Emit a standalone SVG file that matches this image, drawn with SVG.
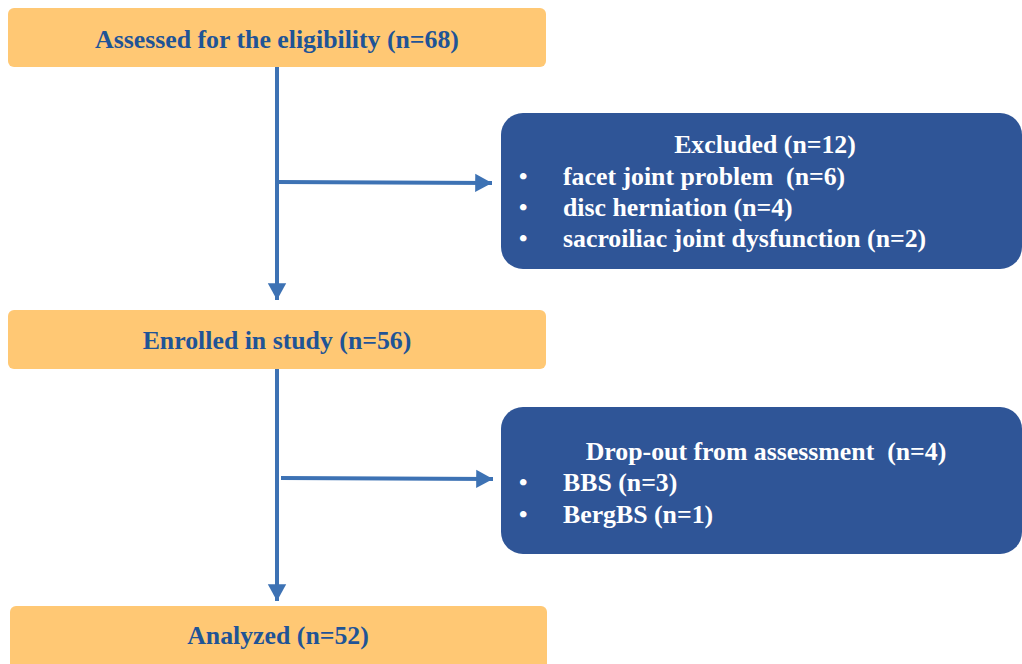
<svg xmlns="http://www.w3.org/2000/svg" width="1022" height="664" viewBox="0 0 1022 664">
<style>
.ob{fill:#FFC874;}
.bb{fill:#2F5597;}
.ot{font-family:"Liberation Serif",serif;font-weight:bold;font-size:25.8px;fill:#1F5496;text-anchor:middle;}
.wt{font-family:"Liberation Serif",serif;font-weight:bold;font-size:25.8px;fill:#FFFFFF;}
.bl{font-family:"Liberation Serif",serif;font-weight:bold;font-size:24px;fill:#FFFFFF;}
.c{stroke:#3D72B4;stroke-width:4;fill:none;}
</style>
<defs>
<marker id="ah" markerWidth="6" markerHeight="6" refX="4.2" refY="2.5" orient="auto" markerUnits="strokeWidth">
<path d="M0,0.2 L4.2,2.5 L0,4.8 Z" fill="#3D72B4"/>
</marker>
</defs>
<rect width="1022" height="664" fill="#FFFFFF"/>
<g id="connectors">
<line class="c" x1="277" y1="67" x2="277" y2="300" marker-end="url(#ah)"/>
<line class="c" x1="277" y1="182" x2="492" y2="183" marker-end="url(#ah)"/>
<line class="c" x1="277" y1="369" x2="277" y2="601" marker-end="url(#ah)"/>
<line class="c" x1="281" y1="478" x2="493" y2="479" marker-end="url(#ah)"/>
</g>
<g id="assessed">
<rect class="ob" x="8" y="8" width="538" height="59" rx="6"/>
<text class="ot" x="277" y="48">Assessed for the eligibility (n=68)</text>
</g>
<g id="excluded">
<rect class="bb" x="501" y="113" width="521" height="156" rx="22"/>
<text class="wt" x="765" y="153" text-anchor="middle">Excluded (n=12)</text>
<text class="bl" x="519" y="184">•</text>
<text class="wt" x="563" y="185" xml:space="preserve">facet joint problem  (n=6)</text>
<text class="bl" x="519" y="215">•</text>
<text class="wt" x="563" y="216">disc herniation (n=4)</text>
<text class="bl" x="519" y="246">•</text>
<text class="wt" x="563" y="247">sacroiliac joint dysfunction (n=2)</text>
</g>
<g id="enrolled">
<rect class="ob" x="8" y="310" width="538" height="59" rx="6"/>
<text class="ot" x="277" y="349">Enrolled in study (n=56)</text>
</g>
<g id="dropout">
<rect class="bb" x="501" y="407" width="521" height="147" rx="22"/>
<text class="wt" x="766" y="460" text-anchor="middle" xml:space="preserve">Drop-out from assessment  (n=4)</text>
<text class="bl" x="519" y="490">•</text>
<text class="wt" x="563" y="491">BBS (n=3)</text>
<text class="bl" x="519" y="522">•</text>
<text class="wt" x="563" y="523">BergBS (n=1)</text>
</g>
<g id="analyzed">
<rect class="ob" x="10" y="606" width="537" height="70" rx="6"/>
<text class="ot" x="278" y="644">Analyzed (n=52)</text>
</g>
</svg>
